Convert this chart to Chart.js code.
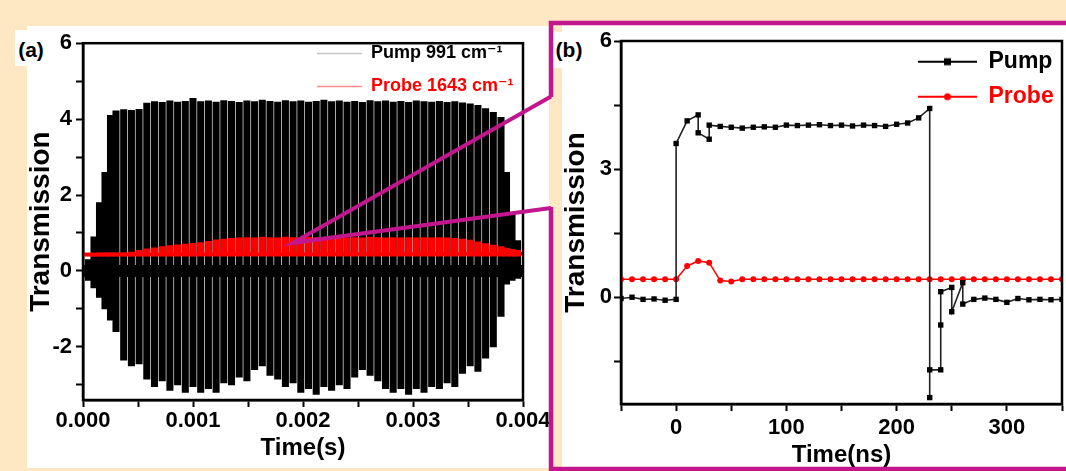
<!DOCTYPE html>
<html><head><meta charset="utf-8">
<script src="https://cdn.jsdelivr.net/npm/chart.js@4.4.1/dist/chart.umd.min.js"></script>
<style>
html,body{margin:0;padding:0;background:#fde8c3;width:1066px;height:471px;overflow:hidden;position:relative;font-family:'Liberation Sans',Arial,sans-serif;}
canvas{position:absolute;}
.lab{position:absolute;background:#fff;font-weight:bold;font-size:21px;text-align:center;color:#000;}
</style></head><body>
<canvas id="ca" width="525" height="442" style="left:27px;top:26px;background:#fff"></canvas>
<canvas id="cb" width="504" height="442" style="left:562px;top:25px;background:#fff"></canvas>
<div class="lab" style="left:15px;top:30px;width:32px;height:36px;line-height:40px;">(a)</div>
<div class="lab" style="left:553px;top:32px;width:32px;height:36px;line-height:36px;">(b)</div>
<canvas id="ov" width="1066" height="471" style="left:0;top:0;pointer-events:none"></canvas>
<script>
// ================= Panel (a) data =================
const pulseTimes = [
 0.00005,0.00010,0.00015,0.00020,0.00025,
 0.00030,0.00037,0.00044,0.00051,0.00058,0.00065,0.00072,0.00079,0.00086,0.00093,
 0.00100,0.00107,0.00114,0.00121,0.00128,0.00135,0.00142,0.00149,0.00156,0.00163,
 0.00170,0.00177,0.00184,0.00191,0.00198,0.00205,0.00212,0.00219,0.00226,0.00233,
 0.00240,0.00247,0.00254,0.00261,0.00268,0.00275,0.00282,0.00289,0.00296,0.00303,
 0.00310,0.00317,0.00324,0.00331,0.00338,0.00345,0.00352,0.00359,0.00366,0.00373,
 0.00380,0.00385,0.00390,0.00395];
const pumpHigh = [
 0.3,0.9,1.8,2.6,4.1,
 4.22,4.25,4.23,4.26,4.42,4.46,4.44,4.48,4.45,4.47,
 4.55,4.46,4.48,4.45,4.49,4.47,4.44,4.48,4.46,4.50,
 4.47,4.45,4.49,4.46,4.48,4.45,4.47,4.50,4.46,4.48,
 4.45,4.47,4.44,4.49,4.46,4.48,4.45,4.47,4.44,4.48,
 4.46,4.45,4.47,4.44,4.46,4.43,4.40,4.36,4.28,4.18,
 4.05,2.6,1.5,0.8];
const pumpLow = [
 -0.25,-0.45,-0.7,-1.0,-1.3,
 -1.6,-2.35,-2.5,-2.45,-2.85,-3.05,-2.9,-3.15,-3.0,-3.2,
 -3.05,-3.2,-3.1,-3.2,-2.95,-3.0,-2.8,-2.9,-2.6,-2.5,
 -2.75,-2.85,-3.05,-2.95,-3.2,-3.1,-3.25,-3.05,-3.15,-3.0,
 -3.1,-2.8,-2.6,-2.75,-2.9,-3.1,-3.2,-3.1,-3.25,-3.1,
 -3.2,-3.05,-3.1,-2.95,-3.05,-2.7,-2.5,-2.65,-2.3,-2.0,
 -1.2,-0.35,-0.25,-0.2];
const probeHigh = [
 0.47,0.47,0.47,0.48,0.48,
 0.48,0.48,0.50,0.54,0.58,0.61,0.64,0.67,0.69,0.71,
 0.73,0.75,0.78,0.82,0.84,0.86,0.87,0.88,0.87,0.89,
 0.88,0.87,0.89,0.88,0.87,0.89,0.88,0.87,0.88,0.89,
 0.87,0.88,0.87,0.89,0.88,0.87,0.88,0.87,0.88,0.87,
 0.88,0.87,0.88,0.87,0.86,0.84,0.81,0.77,0.72,0.68,
 0.64,0.60,0.57,0.54];
const probeBase = 0.39;
const probeLineTimes = [0.00001, 0.00400];
const probeLineValues = [0.435, 0.45];
const pumpBaseTimes = [0.00001, 0.00400];
const pumpBaseValues = [0.0, 0.0];
const aXTicks = ['0.000','0.001','0.002','0.003','0.004'];
const aYTicks = ['-2','0','2','4','6'];
const zoomPoint = [0.00191, 0.74];

// ================= Panel (b) data =================
const pumpNsT = [-50,-40,-30,-20,-10,0,0,10,20,20,30,30,
 40,50,60,70,80,90,100,110,120,130,140,150,160,170,180,190,200,210,220,230,
 230,230,240,240,240,250,250,260,260,270,280,290,300,310,320,330,340,350];
const pumpNsV = [-0.03,0.0,-0.05,-0.04,-0.07,-0.05,3.6,4.13,4.27,3.85,3.7,4.03,
 4.0,3.98,3.96,3.98,3.99,3.98,4.03,4.02,4.03,4.04,4.02,4.03,4.01,4.03,4.02,4.0,4.05,4.08,4.2,4.42,
 -2.35,-1.7,-1.7,-0.65,0.13,0.23,-0.34,0.34,-0.16,-0.05,-0.02,-0.05,-0.12,-0.03,-0.06,-0.05,-0.06,-0.05];
const probeNsT = [-50,-40,-30,-20,-10,0,10,20,30,40,50,
 60,70,80,90,100,110,120,130,140,150,160,170,180,190,200,210,220,230,240,250,260,270,280,290,300,310,320,330,340,350];
const probeNsV = [0.42,0.42,0.42,0.42,0.42,0.42,0.73,0.85,0.81,0.39,0.37,
 0.42,0.42,0.42,0.42,0.42,0.42,0.42,0.42,0.42,0.42,0.42,0.42,0.42,0.42,0.42,0.42,0.42,0.42,0.42,0.42,0.42,0.42,0.42,0.42,0.42,0.42,0.42,0.42,0.42,0.42];
const bXTicks = ['0','100','200','300'];
const bYTicks = ['0','3','6'];

// ================= helpers =================
Chart.defaults.font.family = "'Liberation Sans','DejaVu Sans',Arial,sans-serif";
Chart.defaults.font.weight = 'bold';
Chart.defaults.color = '#000';

const framePlugin = { id:'frame', afterDatasetsDraw(chart){
  const {ctx, chartArea:a} = chart; ctx.save(); ctx.strokeStyle='#000'; ctx.lineWidth=2.5;
  ctx.strokeRect(a.left, a.top, a.right-a.left, a.bottom-a.top); ctx.restore(); } };
const legendPlace = { id:'legendPlace', afterLayout(chart, args, o){
  const l = chart.legend; if(!l) return; const w=l.width, h=l.height;
  l.left = o.x - o.pad; l.top = o.y - o.fs/2 - o.pad; l.right = l.left + w; l.bottom = l.top + h; } };

function axisCommon(){ return {
  grid:{drawOnChartArea:false, drawTicks:true, tickLength:7, tickWidth:2, tickColor:'#000', offset:false},
  border:{display:true, width:2.5, color:'#000'} }; }

function icon(color, shape){
  const c=document.createElement('canvas'); c.width=59; c.height=12;
  const g=c.getContext('2d'); g.strokeStyle=color; g.lineWidth=2; g.beginPath(); g.moveTo(0,6); g.lineTo(59,6); g.stroke();
  g.fillStyle=color;
  if(shape==='rect'){ g.fillRect(29.5-3.5,6-3.5,7,7); } else { g.beginPath(); g.arc(29.5,6,3.5,0,Math.PI*2); g.fill(); }
  return c;
}

// ================= Chart (a) =================
const pumpBars = pulseTimes.map((t,i)=>({x:t, y:[pumpLow[i], pumpHigh[i]]}));
const probeBars = pulseTimes.map((t,i)=>({x:t, y:[probeBase, probeHigh[i]]}));
const probeLine = probeLineTimes.map((t,i)=>({x:t, y:probeLineValues[i]}));
const pumpBase = pumpBaseTimes.map((t,i)=>({x:t, y:pumpBaseValues[i]}));

const ax = axisCommon(), ay = axisCommon();
const chartA = new Chart(document.getElementById('ca'), {
  type:'bar',
  data:{ datasets:[
    {type:'bar', label:'Probe 1643 cm⁻¹', data:probeBars, backgroundColor:'#ff0000', borderWidth:0, barThickness:6.4, stack:'s'},
    {type:'line', label:'probe base', data:probeLine, borderColor:'#ff0000', borderWidth:3.5, pointRadius:0},
    {type:'bar', label:'Pump 991 cm⁻¹', data:pumpBars, backgroundColor:'#000000', borderWidth:0, barThickness:6.4, stack:'s'},
    {type:'line', label:'pump base', data:pumpBase, borderColor:'#000000', borderWidth:12, pointRadius:0}
  ]},
  options:{
    responsive:false, animation:false, events:[],
    layout:{padding:{left:0, top:14, right:29, bottom:0}},
    plugins:{
      tooltip:{enabled:false},
      legend:{display:true, position:'chartArea', align:'start',
        labels:{boxWidth:45, boxHeight:1.5, padding:15, font:{size:18, weight:'bold'},
          generateLabels:()=>[
            {text:'Pump 991 cm⁻¹', fillStyle:'#c4c4c4', strokeStyle:'#c4c4c4', lineWidth:0, fontColor:'#000000', hidden:false, datasetIndex:2},
            {text:'Probe 1643 cm⁻¹', fillStyle:'#ff8c8c', strokeStyle:'#ff8c8c', lineWidth:0, fontColor:'#ff0000', hidden:false, datasetIndex:0}
          ]}},
      legendPlace:{x:290, y:27.5, pad:15, fs:18}
    },
    scales:{
      x:{type:'linear', min:0, max:0.004, offset:false, grid:ax.grid, border:ax.border,
        ticks:{stepSize:0.0005, autoSkip:false, maxRotation:0, padding:1, font:{size:22, weight:'bold'},
          callback:(v)=>{ const s=v.toFixed(3); return (Math.abs(v*1000-Math.round(v*1000))<1e-6 && aXTicks.includes(s)) ? s : ''; }},
        title:{display:true, text:'Time(s)', font:{size:24, weight:'bold', lineHeight:1}, padding:{top:0, bottom:8}},
        afterFit:(s)=>{ s.height=68; }},
      y:{type:'linear', min:-3.4, max:6, stacked:false, grid:ay.grid, border:ay.border,
        ticks:{stepSize:1, includeBounds:false, autoSkip:false, padding:4, font:{size:22, weight:'bold'},
          callback:(v)=> aYTicks.includes(String(v)) ? String(v) : ''},
        title:{display:true, text:'Transmission', font:{size:28, weight:'bold', lineHeight:1}, padding:0},
        afterFit:(s)=>{ s.width=56; }}
    }
  },
  plugins:[framePlugin, legendPlace]
});

// ================= Chart (b) =================
const pumpNs = pumpNsT.map((t,i)=>({x:t, y:pumpNsV[i]}));
const probeNs = probeNsT.map((t,i)=>({x:t, y:probeNsV[i]}));
const bx = axisCommon(), by = axisCommon();
const chartB = new Chart(document.getElementById('cb'), {
  type:'line',
  data:{ datasets:[
    {label:'Pump', data:pumpNs, borderColor:'#222222', borderWidth:1.6, tension:0,
      pointStyle:'rect', pointRadius:3.8, pointBackgroundColor:'#000', pointBorderColor:'#000', pointBorderWidth:0},
    {label:'Probe', data:probeNs, borderColor:'#ff0000', borderWidth:1.6, tension:0,
      pointStyle:'circle', pointRadius:3, pointBackgroundColor:'#ff0000', pointBorderColor:'#ff0000', pointBorderWidth:0}
  ]},
  options:{
    responsive:false, animation:false, events:[],
    layout:{padding:{left:0, top:16, right:3, bottom:0}},
    plugins:{
      tooltip:{enabled:false},
      legend:{display:true, position:'chartArea', align:'start',
        labels:{usePointStyle:true, pointStyleWidth:59, padding:12, font:{size:23, weight:'bold'},
          generateLabels:()=>[
            {text:'Pump', pointStyle:icon('#000000','rect'), fillStyle:'#000', strokeStyle:'#000', lineWidth:0, fontColor:'#000000', hidden:false, datasetIndex:0},
            {text:'Probe', pointStyle:icon('#ff0000','circle'), fillStyle:'#f00', strokeStyle:'#f00', lineWidth:0, fontColor:'#ff0000', hidden:false, datasetIndex:1}
          ]}},
      legendPlace:{x:356, y:36.7, pad:12, fs:23}
    },
    scales:{
      x:{type:'linear', min:-50, max:350, offset:false, grid:bx.grid, border:bx.border,
        ticks:{stepSize:50, autoSkip:false, maxRotation:0, padding:4, font:{size:22, weight:'bold'},
          callback:(v)=> bXTicks.includes(String(v)) ? String(v) : ''},
        title:{display:true, text:'Time(ns)', font:{size:24, weight:'bold', lineHeight:1}, padding:{top:0, bottom:0}},
        afterFit:(s)=>{ s.height=63; }},
      y:{type:'linear', min:-2.5, max:6, grid:by.grid, border:by.border,
        ticks:{stepSize:1.5, includeBounds:false, autoSkip:false, padding:2, font:{size:22, weight:'bold'},
          callback:(v)=> bYTicks.includes(String(v)) ? String(v) : ''},
        title:{display:true, text:'Transmission', font:{size:28, weight:'bold', lineHeight:1}, padding:0},
        afterFit:(s)=>{ s.width=59; }}
    }
  },
  plugins:[framePlugin, legendPlace]
});

// ================= zoom frame overlay =================
(function(){
  const g = document.getElementById('ov').getContext('2d');
  const px = 27 + chartA.scales.x.getPixelForValue(zoomPoint[0]);
  const py = 26 + chartA.scales.y.getPixelForValue(zoomPoint[1]);
  g.fillStyle = '#fde8c3'; g.fillRect(549, 97, 4, 110);
  g.strokeStyle = '#c2168e'; g.lineWidth = 4.5;
  g.beginPath();
  g.moveTo(551, 97); g.lineTo(551, 23); g.lineTo(1070, 23);
  g.moveTo(551, 207); g.lineTo(551, 469); g.lineTo(1070, 469);
  g.stroke();
  g.lineWidth = 4; g.lineJoin = 'miter';
  g.beginPath(); g.moveTo(551, 96.5); g.lineTo(px, py); g.lineTo(551, 208); g.stroke();
})();
</script>
</body></html>
